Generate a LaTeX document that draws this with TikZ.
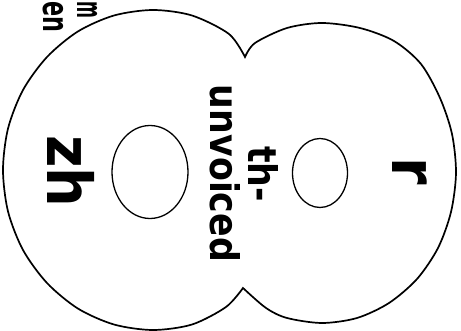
\documentclass[tikz,border=0pt]{standalone}
\usepackage{fontspec}
\setmainfont{DejaVu Sans}
\usetikzlibrary{shapes.geometric}

\begin{document}
\begin{tikzpicture}[
    x=1pt, y=-1pt,
    lobe/.style={line width=1.7pt, line join=miter},
    ring/.style={draw, ellipse, line width=1.3pt, inner sep=0pt},
    biglabel/.style={font=\fontsize{62}{62}\selectfont\bfseries, rotate=-90, xscale=0.9, inner sep=0pt, anchor=base},
    smalllabel/.style={font=\fontsize{39.5}{38}\selectfont\bfseries, rotate=-90, xscale=0.88, inner sep=0pt, anchor=base},
    cutlabel/.style={font=\fontsize{36}{36}\selectfont\bfseries, rotate=-90, inner sep=0pt, anchor=base west}
]
    \useasboundingbox (0,0) rectangle (461,331);
    \fill[white] (0,0) rectangle (461,331);

    % the two joined lobes
    \coordinate (topcusp) at (245,57);
    \coordinate (botcusp) at (243,288);
    \draw[lobe] plot[smooth] coordinates {(topcusp) (229,34) (192,15.5) (153,10) (114,15.5) (78,31.4) (47,57) (23,90) (8,128.6) (3,170) (8,211.4) (23,250) (47,283) (78,308.6) (114,324.5) (153,330) (192,324.5) (226,307) (botcusp)}
        -- plot[smooth] coordinates {(botcusp) (266,308) (287,318) (322,323) (357,318) (389,303) (417,279) (438,248) (451,212) (456,173) (452,134) (440,98) (421,64) (394,41) (360,28) (322,23) (287,28) (255,43) (topcusp)}
        -- cycle;

    % holes
    \node[ring, minimum width=76pt, minimum height=93pt] (zhring) at (150,172) {};
    \node[ring, minimum width=55pt, minimum height=69pt] (rring) at (320,173) {};

    % labels
    \node[biglabel] (zhlab) at (47,171.5) {zh};
    \node[biglabel] (rlab) at (392,171.5) {r};
    \node[smalllabel] (thlab) at (248,174) {th-};
    \node[smalllabel] (unvlab) at (210,173.5) {unvoiced};
    \node[cutlabel, xscale=0.62] (enlab) at (43,1) {en};
    \node[cutlabel, xscale=0.45] (mlab) at (77,1) {m};
\end{tikzpicture}
\end{document}
